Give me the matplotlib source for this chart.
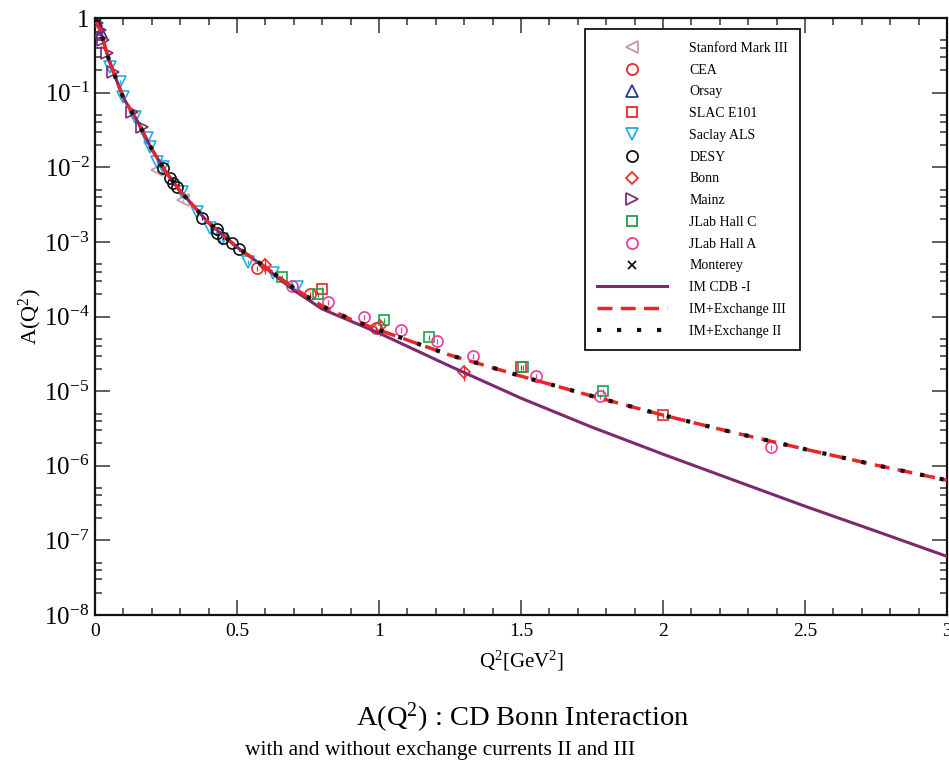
import numpy as np
import matplotlib
matplotlib.use("Agg")
import matplotlib.pyplot as plt
from matplotlib.lines import Line2D
from matplotlib.ticker import MultipleLocator, LogLocator, NullFormatter, FuncFormatter, FixedLocator

plt.rcParams['font.family'] = ['Liberation Serif', 'DejaVu Serif']
plt.rcParams['mathtext.fontset'] = 'custom'
plt.rcParams['mathtext.rm'] = 'Liberation Serif'
plt.rcParams['mathtext.it'] = 'Liberation Serif:italic'
plt.rcParams['mathtext.bf'] = 'Liberation Serif:bold'

# ---- theory curves: A(Q^2) for CD Bonn, impulse approximation and with exchange currents
q2_theory = [0.0, 0.01, 0.02, 0.03, 0.05, 0.075, 0.1, 0.15, 0.2, 0.25, 0.3, 0.4, 0.5,
             0.6, 0.7, 0.8, 0.9, 1.0, 1.25, 1.5, 1.75, 2.0, 2.25, 2.5, 2.75, 3.0]
a_im_cdb = [1.0, 0.79, 0.68, 0.48, 0.27, 0.15, 0.085, 0.041, 0.0175, 0.0086, 0.0048,
            0.0018, 8.5e-4, 4.5e-4, 2.25e-4, 1.26e-4, 8.7e-5, 6.0e-5, 2.16e-5, 8.05e-6,
            3.29e-6, 1.43e-6, 6.4e-7, 2.87e-7, 1.33e-7, 6.1e-8]
a_exch_iii = [1.0, 0.79, 0.68, 0.48, 0.27, 0.15, 0.085, 0.041, 0.0175, 0.0086, 0.0048,
              0.0018, 8.5e-4, 4.6e-4, 2.4e-4, 1.38e-4, 9.2e-5, 6.6e-5, 3.04e-5, 1.59e-5,
              8.6e-6, 4.77e-6, 2.78e-6, 1.67e-6, 1.02e-6, 6.4e-7]
a_exch_ii = [1.0, 0.79, 0.68, 0.48, 0.27, 0.15, 0.085, 0.041, 0.0175, 0.0086, 0.0048,
             0.0018, 8.5e-4, 4.6e-4, 2.4e-4, 1.38e-4, 9.2e-5, 6.6e-5, 3.04e-5, 1.59e-5,
             8.6e-6, 4.77e-6, 2.78e-6, 1.67e-6, 1.02e-6, 6.4e-7]

# ---- experimental data sets
stanford_q2 = [0.22, 0.31]
stanford_a = [0.0092, 0.0036]

cea_q2 = [0.57, 0.757, 0.99]
cea_a = [4.45e-4, 2.0e-4, 7.0e-5]

orsay_q2 = [0.004, 0.012, 0.022]
orsay_a = [0.93, 0.78, 0.64]

slac_q2 = [0.80, 1.50, 2.00]
slac_a = [2.33e-4, 2.1e-5, 4.77e-6]

saclay_q2 = [0.053, 0.088, 0.099, 0.141, 0.183, 0.194, 0.218, 0.239, 0.306, 0.359,
             0.405, 0.447, 0.539, 0.627, 0.711]
saclay_a = [0.22, 0.139, 0.087, 0.047, 0.0246, 0.0187, 0.0117, 0.0101, 0.00466, 0.0025,
            0.00153, 0.00109, 5.4e-4, 3.8e-4, 2.5e-4]

desy_q2 = [0.239, 0.264, 0.275, 0.289, 0.377, 0.430, 0.430, 0.451, 0.482, 0.507]
desy_a = [0.00975, 0.00716, 0.00614, 0.00543, 0.00208, 0.00149, 0.00131, 0.00112,
          9.6e-4, 8.0e-4]

bonn_q2 = [0.60, 1.004, 1.30]
bonn_a = [4.9e-4, 7.4e-5, 1.8e-5]

mainz_q2 = [0.007, 0.018, 0.028, 0.042, 0.063, 0.130, 0.165]
mainz_a = [0.857, 0.69, 0.507, 0.34, 0.189, 0.055, 0.0346]

jlabc_q2 = [0.658, 0.785, 1.018, 1.176, 1.507, 1.789]
jlabc_a = [3.37e-4, 2.0e-4, 8.95e-5, 5.3e-5, 2.1e-5, 1.0e-5]

jlaba_q2 = [0.694, 0.820, 0.947, 1.077, 1.204, 1.331, 1.553, 1.778, 2.380]
jlaba_a = [2.56e-4, 1.56e-4, 9.8e-5, 6.6e-5, 4.7e-5, 2.94e-5, 1.59e-5, 8.6e-6, 1.77e-6]

monterey_q2 = [0.003, 0.008]
monterey_a = [0.95, 0.87]

# relative uncertainty per data set
rel_err = {'Stanford Mark III': 0.06, 'CEA': 0.08, 'Orsay': 0.05, 'SLAC E101': 0.08,
           'Saclay ALS': 0.05, 'DESY': 0.05, 'Bonn': 0.25, 'Mainz': 0.04,
           'JLab Hall C': 0.08, 'JLab Hall A': 0.08, 'Monterey': 0.03}

datasets = [
    ('Stanford Mark III', stanford_q2, stanford_a, '<', '#c49a9a'),
    ('CEA', cea_q2, cea_a, 'o', '#e8262a'),
    ('Orsay', orsay_q2, orsay_a, '^', '#2b3990'),
    ('SLAC E101', slac_q2, slac_a, 's', '#e8262a'),
    ('Saclay ALS', saclay_q2, saclay_a, 'v', '#29abe2'),
    ('DESY', desy_q2, desy_a, 'o', '#111111'),
    ('Bonn', bonn_q2, bonn_a, 'D', '#ee2c2c'),
    ('Mainz', mainz_q2, mainz_a, '>', '#7f2b7a'),
    ('JLab Hall C', jlabc_q2, jlabc_a, 's', '#1fa04a'),
    ('JLab Hall A', jlaba_q2, jlaba_a, 'o', '#ec3c96'),
    ('Monterey', monterey_q2, monterey_a, 'x', '#111111'),
]

msizes = {'o': 8, 's': 7.5, 'D': 6.5, '^': 8, 'v': 8, '<': 8, '>': 8, 'x': 6}

fig = plt.figure(figsize=(9.49, 7.64), dpi=100)
ax = fig.add_axes([0.1001, 0.1950, 0.8978, 0.7814])

handles = []
for name, q, a, m, c in datasets:
    q = np.asarray(q)
    a = np.asarray(a)
    ax.errorbar(q, a, yerr=a * rel_err[name], fmt='none', ecolor=c, elinewidth=0.9,
                capsize=0, zorder=2)
    ax.plot(q, a, linestyle='none', marker=m, markersize=msizes[m], markerfacecolor='none',
            markeredgecolor=c, markeredgewidth=1.2, zorder=3)
    handles.append(Line2D([], [], linestyle='none', marker=m, markersize=msizes[m],
                          markerfacecolor='none', markeredgecolor=c,
                          markeredgewidth=1.3, label=name))

cdb_style = dict(color='#7b2a6e', linewidth=2.2, linestyle='-')
iii_style = dict(color='#e8262a', linewidth=2.5, linestyle=(0, (4.3, 2.4)),
                 dash_capstyle='butt')
ii_style = dict(color='#111111', linewidth=3.0, linestyle=(0, (1.0, 3.8)),
                dash_capstyle='butt')

ax.plot(q2_theory, a_im_cdb, zorder=4, **cdb_style)
ax.plot(q2_theory, a_exch_iii, zorder=5, **iii_style)
ax.plot(q2_theory, a_exch_ii, zorder=6, **ii_style)

handles.append(Line2D([], [], label='IM CDB -I', **cdb_style))
handles.append(Line2D([], [], label='IM+Exchange III', **iii_style))
handles.append(Line2D([], [], label='IM+Exchange II', **ii_style))

ax.set_yscale('log')
ax.set_xlim(0, 3)
ax.set_ylim(1e-8, 1)

ax.xaxis.set_major_locator(MultipleLocator(0.5))
ax.xaxis.set_minor_locator(MultipleLocator(0.1))
ax.xaxis.set_major_formatter(FuncFormatter(lambda v, p: '%g' % v))
ax.yaxis.set_major_locator(FixedLocator([10.0 ** e for e in range(-8, 1)]))
ax.yaxis.set_minor_locator(LogLocator(base=10, subs=[2, 3, 4, 5], numticks=20))
ax.yaxis.set_minor_formatter(NullFormatter())


def yfmt(v, pos):
    e = int(round(np.log10(v)))
    return '1' if e == 0 else r'$\mathregular{10^{%d}}$' % e


ax.yaxis.set_major_formatter(FuncFormatter(yfmt))

ax.tick_params(which='both', direction='in', top=True, right=True, color='#333333')
ax.tick_params(which='major', length=11, width=1.1)
ax.tick_params(which='minor', length=5, width=1.1)
ax.tick_params(axis='y', which='major', labelsize=18, pad=4)
ax.tick_params(axis='x', which='major', labelsize=14, pad=6)
for s in ax.spines.values():
    s.set_linewidth(1.6)
    s.set_color('#111111')

ax.set_xlabel(r'Q$^2$[GeV$^2$]', fontsize=15, labelpad=6)
ax.set_ylabel(r'A(Q$^2$)', fontsize=16, labelpad=0)

leg = ax.legend(handles=handles, loc='upper left', bbox_to_anchor=(0.575, 0.981),
                fontsize=10, frameon=True, fancybox=False, framealpha=1,
                edgecolor='#111111', handlelength=5.0, handletextpad=1.6,
                labelspacing=0.63, borderpad=0.9, borderaxespad=0)
leg.get_frame().set_linewidth(1.3)
leg.set_zorder(10)

fig.text(0.551, 0.060, r'A(Q$^2$) : CD Bonn Interaction', ha='center', va='center',
         fontsize=20.5)
fig.text(0.464, 0.018, 'with and without exchange currents II and III', ha='center',
         va='center', fontsize=15.5)

fig.savefig('out.png', dpi=100)
